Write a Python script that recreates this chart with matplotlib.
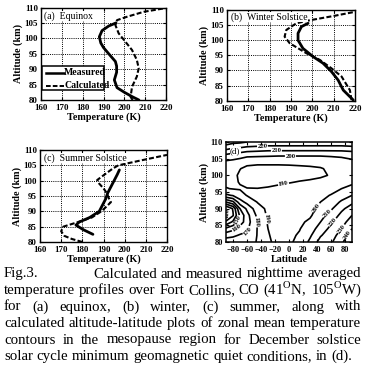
import numpy as np
import matplotlib
matplotlib.use("Agg")
import matplotlib.pyplot as plt
from matplotlib.patches import Rectangle
from matplotlib.lines import Line2D

plt.rcParams['font.family'] = ['Liberation Serif', 'DejaVu Serif']
plt.rcParams['mathtext.fontset'] = 'custom'
plt.rcParams['mathtext.rm'] = 'Liberation Serif'

# ---------------- data ----------------
# (a) Equinox
eq_meas_alt = [80, 81, 82.5, 84, 86.5, 89, 91, 92.5, 95, 97, 98.5, 100.5, 102.5, 104, 105]
eq_meas_T = [207, 204, 200, 196.5, 195.2, 196.3, 196.3, 195.7, 192.5, 190, 188.7, 188, 189.3, 192.5, 196]
eq_calc_alt = [80, 81, 84.3, 87.6, 90.3, 93, 96.2, 98.9, 101.6, 104.3, 105.9, 107, 108.6, 109.7]
eq_calc_T = [204, 203, 203.7, 206, 206.9, 206, 203.7, 200.5, 197.3, 195.7, 196.5, 201.3, 209.3, 218.9]

# (b) Winter solstice
wi_meas_alt = [80.2, 83.5, 86.8, 89.6, 92.4, 94.6, 97.3, 100, 102.3, 104.5, 105.6]
wi_meas_T = [219.2, 214.5, 212.1, 209, 205, 200.3, 195.6, 193.3, 193.3, 194.9, 198]
wi_calc_alt = [80.2, 83.5, 88, 90.7, 93.5, 95.7, 99, 101.2, 103.4, 105.6, 106.5, 108, 109.4]
wi_calc_T = [218.4, 217.6, 213.7, 209, 203.5, 197.2, 189.4, 187, 187.8, 192.5, 198, 209.8, 220]

# (c) Summer solstice
su_meas_alt = [82.5, 84, 85.5, 86.5, 88, 90, 92, 94, 96, 98, 100, 102, 103.5]
su_meas_T = [185, 180.5, 177, 178.5, 183.5, 188, 189.5, 191, 192, 193.5, 195, 196.5, 197.5]
su_calc_alt = [80, 81, 82, 83.5, 85, 86.5, 88, 90, 91.5, 93, 94.3, 96, 97.5, 99, 100.2,
               102, 104, 105, 106.5, 108.4]
su_calc_T = [180, 175, 171.5, 170, 171, 178, 184.5, 189, 191.3, 193.5, 192.5, 191.5, 190,
             188, 187, 190.5, 194.5, 197, 207, 220]

# (d) zonal mean temperature (K), rows = altitude, cols = latitude
lat_grid = [-90, -80, -70, -60, -45, -30, -15, 0, 15, 30, 45, 60, 75, 90]
alt_grid = [80, 82, 84, 86, 88, 90, 92, 94, 96, 98, 100, 102, 104, 106, 108, 110]
T_cols = {
    -90: [176, 166, 152, 132, 117, 118, 150, 178, 189.5, 192, 192, 193, 198, 208, 222, 236],
    -80: [176, 168, 157, 142, 129, 131, 158, 181, 190.5, 191.5, 191.5, 192.5, 197, 206, 219, 233],
    -70: [176.5, 171, 164, 155, 152, 160, 176, 186, 190.8, 189.5, 189, 190.2, 195, 204.5, 218, 232],
    -60: [177, 172, 168, 165, 166.5, 172, 183, 190.5, 190.2, 188.3, 187.5, 188.5, 192, 202.5, 216, 230],
    -45: [180.5, 180.5, 180.5, 181, 182.5, 186, 190.5, 191.5, 190.1, 188.3, 187, 188, 191.5, 202, 215, 229],
    -30: [189, 189.5, 190, 191, 191.5, 192, 192, 191.5, 190.4, 188.8, 187, 188, 191.5, 201.5, 214, 228],
    -15: [192, 192.5, 193, 193.5, 194, 194, 193.5, 192.5, 191, 189.2, 187, 188, 191.5, 201, 214, 228],
    0: [198.5, 198, 197.5, 197, 196.5, 196, 195, 194, 192, 189.6, 187.5, 188.3, 191.5, 201, 214, 228],
    15: [202.5, 201, 199.5, 198, 197, 196, 195, 194, 192.5, 190.3, 188, 188.8, 191.5, 201, 214, 228],
    30: [212, 208.5, 205, 202, 198.5, 197, 196, 195, 193.5, 190.8, 188.5, 189.2, 191.5, 201, 214, 228],
    45: [224, 219, 214.5, 210, 206.5, 203, 200, 197.5, 195, 191.8, 189, 189.6, 192, 201, 214, 228],
    60: [228.5, 226, 222.5, 218.5, 214, 208.5, 204, 200.5, 196.5, 193, 190.5, 191, 193.5, 201.5, 214, 228],
    75: [238, 234, 230, 226, 222.5, 218, 211.5, 205, 200, 196.5, 194.5, 194, 195.5, 202, 214, 228],
    90: [250, 245, 240, 235, 230, 224.5, 218, 210, 203, 198, 196, 196, 198, 203, 215, 229],
}
contour_levels = [120, 130, 140, 150, 160, 170, 180, 190, 200, 210, 220, 230, 240]
label_spots = [(-38, 108.9), (-18, 107.3), (2, 105.8), (-8, 97.6),
               (39, 90.3), (56, 88.3), (63, 85.8), (73, 84.2), (84, 82.2),
               (-33, 87), (-47, 86), (-57, 83), (-73, 86.5), (-76, 84.5), (-84, 88.8)]

caption_lines = [
    "temperature profiles over Fort Collins, CO (41$^{\\mathrm{O}}$N, 105$^{\\mathrm{O}}$W)",
    "for (a) equinox, (b) winter, (c) summer, along with",
    "calculated altitude-latitude plots of zonal mean temperature",
    "contours in the mesopause region for December solstice",
    "solar cycle minimum geomagnetic quiet conditions, in (d).",
]
caption_first = ("Fig.3.", "Calculated and measured nighttime averaged")

# ---------------- figure ----------------
W, H = 366, 377
fig = plt.figure(figsize=(W / 100, H / 100), dpi=100)
fig.patch.set_facecolor('white')


def rect(l, t, r, b):
    return [l / W, 1 - b / H, (r - l) / W, (b - t) / H]


TFS = 6.4
LFS = 7.3
DASH = (0, (2.4, 1.1))


def bold_ticks(ax):
    for lbl in ax.get_xticklabels() + ax.get_yticklabels():
        lbl.set_fontweight('bold')


def profile_axes(r, meas_T, meas_alt, calc_T, calc_alt, title, tx, ty):
    ax = fig.add_axes(rect(*r))
    ax.plot(calc_T, calc_alt, color='k', lw=1.5, ls=DASH)
    ax.plot(meas_T, meas_alt, color='k', lw=2.0, solid_capstyle='round')
    ax.set_xlim(160, 220)
    ax.set_ylim(80, 110)
    ax.set_xticks(np.arange(160, 221, 10))
    ax.set_yticks(np.arange(80, 111, 5))
    ax.grid(True, ls=(0, (1, 1.2)), color='k', lw=0.7)
    ax.tick_params(direction='in', length=2, width=0.8, labelsize=TFS, pad=2.2,
                   top=True, right=True)
    ax.tick_params(axis='x', pad=2.8)
    bold_ticks(ax)
    for s in ax.spines.values():
        s.set_linewidth(1.0)
    ax.set_xlabel('Temperature (K)', fontsize=LFS, fontweight='bold', labelpad=0.5)
    ax.set_ylabel('Altitude (km)', fontsize=LFS, fontweight='bold', labelpad=1)
    ax.text(tx, ty, title, transform=ax.transAxes, fontsize=7, va='center', ha='left',
            bbox=dict(fc='white', ec='none', pad=0.3))
    return ax


axa = profile_axes((41, 7.5, 166, 100), eq_meas_T, eq_meas_alt, eq_calc_T, eq_calc_alt,
                   '(a)  Equinox', 0.02, 0.905)
axb = profile_axes((227, 10, 355, 100.7), wi_meas_T, wi_meas_alt, wi_calc_T, wi_calc_alt,
                   '(b)  Winter Solstice', 0.03, 0.925)
axc = profile_axes((40, 150, 167, 242), su_meas_T, su_meas_alt, su_calc_T, su_calc_alt,
                   '(c)  Summer Solstice', 0.03, 0.915)

# legend of panel (a), drawn as a clipped box
box = Rectangle((0.01, 0.105), 0.49, 0.265, transform=axa.transAxes, fc='white',
                ec='k', lw=1.1, zorder=5)
axa.add_patch(box)
for yy, style, lab in [(0.295, '-', 'Measured'), (0.155, DASH, 'Calculated')]:
    ln = Line2D([0.04, 0.185], [yy, yy], transform=axa.transAxes, color='k',
                lw=1.8 if style == '-' else 1.4, ls=style, zorder=6)
    axa.add_line(ln)
    t = axa.text(0.185, yy, lab, transform=axa.transAxes, fontsize=7, fontweight='bold',
                 va='center', ha='left', zorder=6)
    t.set_clip_path(box)

# (d) contour panel
axd = fig.add_axes(rect(226, 142, 352, 242))
Tgrid = np.array([T_cols[la] for la in lat_grid]).T
cs = axd.contour(lat_grid, alt_grid, Tgrid, levels=contour_levels, colors='k',
                 linewidths=1.2)
labs = axd.clabel(cs, manual=label_spots, inline=True, fontsize=4.8, fmt='%d',
                  inline_spacing=0.5)
for t in labs:
    t.set_fontweight('bold')
axd.set_xlim(-90, 90)
axd.set_ylim(80, 110)
axd.set_xticks(np.arange(-80, 81, 20))
axd.set_yticks(np.arange(80, 111, 5))
axd.tick_params(direction='in', length=2.5, width=0.8, labelsize=6.0, pad=2.2,
                top=True, right=True)
axd.tick_params(axis='x', pad=2.8)
bold_ticks(axd)
for s in axd.spines.values():
    s.set_linewidth(1.1)
axd.set_xlabel('Latitude', fontsize=LFS, fontweight='bold', labelpad=1)
axd.set_ylabel('Altitude (km)', fontsize=LFS, fontweight='bold', labelpad=1)
axd.text(0.03, 0.91, '(d)', transform=axd.transAxes, fontsize=6.5, va='center', ha='left',
         bbox=dict(fc='white', ec='none', pad=0.2))

# ---------------- caption (justified) ----------------
fig.canvas.draw()
rend = fig.canvas.get_renderer()


def width_of(s, fs):
    t = fig.text(0, 0, s, fontsize=fs)
    w = t.get_window_extent(rend).width
    t.remove()
    return w


XL, XR = 4.0, 361.5
base_fs = 10.0
nat = max(width_of(l, base_fs) for l in caption_lines[:-1])
fs = min(base_fs * (XR - XL) / nat, 11.0) * 0.995


def put_words(words, x0, x1, yb, justify=True):
    ws = [width_of(w, fs) for w in words]
    if justify and len(words) > 1:
        gap = (x1 - x0 - sum(ws)) / (len(words) - 1)
    else:
        gap = width_of('a b', fs) - width_of('ab', fs)
    x = x0
    for w, wd in zip(words, ws):
        fig.text(x / W, 1 - yb / H, w, fontsize=fs, ha='left', va='baseline')
        x += wd + gap


baselines = [277.5, 294, 310.5, 327, 343.5, 360]
fig.text(XL / W, 1 - baselines[0] / H, caption_first[0], fontsize=fs, ha='left',
         va='baseline')
put_words(caption_first[1].split(' '), 93, XR, baselines[0])
for i, line in enumerate(caption_lines):
    put_words(line.split(' '), XL, XR, baselines[i + 1], justify=(i < len(caption_lines) - 1))

fig.savefig('out.png', dpi=100)
